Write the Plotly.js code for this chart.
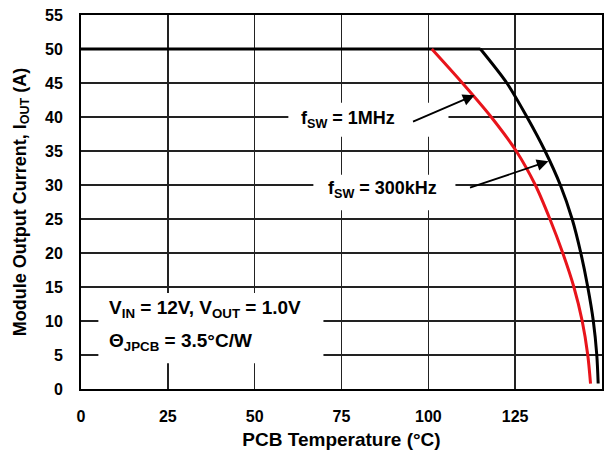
<!DOCTYPE html>
<html>
<head>
<meta charset="utf-8">
<script src="https://cdn.plot.ly/plotly-3.0.1.min.js"></script>
<style>html,body{margin:0;padding:0;background:#fff;}#chart{width:615px;height:464px;}</style>
</head>
<body>
<div id="chart"></div>
<script>
// PCB temperature (°C) and module output current (A)
const temp300k = [0, 115, 122.6, 128.4, 133.6, 138.0, 141.4, 143.9, 145.9, 147.5, 148.5, 148.9];
const iout300k = [50, 50, 45, 40, 35, 30, 25, 20, 15, 10, 5, 0.8];
const temp1M = [101, 109.8, 118.1, 125.3, 130.8, 135.0, 138.7, 141.9, 144.3, 145.9, 146.7];
const iout1M = [50, 45, 40, 35, 30, 25, 20, 15, 10, 5, 0.8];
const xTicks = [0, 25, 50, 75, 100, 125, 150];
const yTicks = [0, 5, 10, 15, 20, 25, 30, 35, 40, 45, 50, 55];
const label1M = 'f<sub>SW</sub> = 1MHz';
const label300k = 'f<sub>SW</sub> = 300kHz';
const condLine1 = 'V<sub>IN</sub> = 12V, V<sub>OUT</sub> = 1.0V';
const condLine2 = 'Θ<sub>JPCB</sub> = 3.5°C/W';

const F = 'Liberation Sans, Arial, sans-serif';
const traces = [
  // flat (full-current) part of the 300 kHz curve
  {x: temp300k.slice(0, 2), y: iout300k.slice(0, 2), mode: 'lines',
   line: {color: '#000000', width: 3}, hoverinfo: 'skip'},
  // derating part of the 300 kHz curve
  {x: temp300k.slice(1), y: iout300k.slice(1), mode: 'lines',
   line: {color: '#000000', width: 3, shape: 'spline', smoothing: 0.8}, hoverinfo: 'skip'},
  {x: temp1M, y: iout1M, mode: 'lines',
   line: {color: '#e8141b', width: 3, shape: 'spline', smoothing: 0.8}, hoverinfo: 'skip'}
];
const whiteRect = (x0, x1, y0, y1) => ({type: 'rect', xref: 'x', yref: 'y', x0, x1, y0, y1,
  fillcolor: '#ffffff', line: {width: 0}, layer: 'between'});
const layout = {
  width: 615, height: 464,
  margin: {l: 81, r: 13, t: 15, b: 75},
  paper_bgcolor: '#fff', plot_bgcolor: '#fff',
  showlegend: false,
  font: {family: F, size: 16, color: '#000'},
  xaxis: {
    range: [0, 150], tickvals: xTicks, ticktext: xTicks.map(String),
    showgrid: true, gridcolor: '#222', gridwidth: 1.5, zeroline: false,
    showline: true, linecolor: '#000', linewidth: 2, mirror: true,
    ticks: '', ticklabelstandoff: 12,
    tickfont: {family: F, size: 16, weight: 'bold'},
    title: {text: 'PCB Temperature (°C)', font: {family: F, size: 19, weight: 'bold'}, standoff: 8}
  },
  yaxis: {
    range: [0, 55], tickvals: yTicks, ticktext: yTicks.map(String),
    showgrid: true, gridcolor: '#222', gridwidth: 1.5, zeroline: false,
    showline: true, linecolor: '#000', linewidth: 2, mirror: true,
    ticks: '', ticklabelstandoff: 13,
    tickfont: {family: F, size: 16, weight: 'bold'},
    title: {text: 'Module Output Current, I<sub>OUT</sub> (A)', font: {family: F, size: 18, weight: 'bold'}, standoff: 14}
  },
  shapes: [
    whiteRect(59.7, 105.8, 37.1, 42.1),
    whiteRect(66.9, 107.8, 26.3, 31.5),
    whiteRect(5.0, 69.8, 3.8, 14.1)
  ],
  annotations: [
    {xref: 'x', yref: 'y', x: 76.8, y: 39.6, text: label1M, showarrow: false,
     font: {family: F, size: 18, weight: 'bold'}},
    {xref: 'x', yref: 'y', x: 86.9, y: 29.3, text: label300k, showarrow: false,
     font: {family: F, size: 18, weight: 'bold'}},
    {xref: 'x', yref: 'y', x: 113.3, y: 43.2, text: '', showarrow: true, ax: -63, ay: 27,
     arrowhead: 2, arrowsize: 1.3, arrowwidth: 1.8, arrowcolor: '#000'},
    {xref: 'x', yref: 'y', x: 134.6, y: 33.5, text: '', showarrow: true, ax: -80, ay: 27,
     arrowhead: 2, arrowsize: 1.3, arrowwidth: 1.8, arrowcolor: '#000'},
    {xref: 'x', yref: 'y', x: 7.5, y: 11.8, xanchor: 'left', text: condLine1, showarrow: false,
     font: {family: F, size: 19, weight: 'bold'}},
    {xref: 'x', yref: 'y', x: 7.5, y: 6.9, xanchor: 'left', text: condLine2, showarrow: false,
     font: {family: F, size: 19, weight: 'bold'}}
  ]
};
Plotly.newPlot('chart', traces, layout, {staticPlot: true, displayModeBar: false});
</script>
</body>
</html>
